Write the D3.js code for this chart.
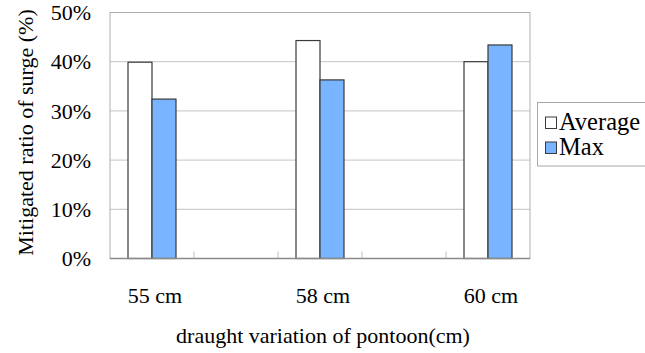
<!DOCTYPE html>
<html><head><meta charset="utf-8">
<script src="https://cdn.jsdelivr.net/npm/d3@7"></script>
</head><body style="margin:0">
<script>
const categories = ["55 cm", "", "58 cm", "", "60 cm"];
const seriesNames = ["Average", "Max"];
const averageValues = [39.9, null, 44.3, null, 40.0];
const maxValues = [32.4, null, 36.3, null, 43.4];
const yTicks = [0, 10, 20, 30, 40, 50];
const colors = ["#ffffff", "#78b4ff"];

const FONT = "Liberation Serif";
const W = 645, H = 353;
const m = {left: 110, right: 530, top: 12.5, bottom: 258.5};
const svg = d3.select("body").append("svg").attr("width", W).attr("height", H).style("display", "block");

const x = d3.scaleBand().domain(d3.range(categories.length)).range([m.left, m.right]).padding(0);
const y = d3.scaleLinear().domain([0, 50]).range([m.bottom, m.top]);
const inner = d3.scaleBand().domain([0, 1]).range([0, x.bandwidth()]).paddingOuter(0.75).paddingInner(0);

// gridlines
svg.append("g").selectAll("line").data(yTicks.filter(d => d > 0 && d < 50)).join("line")
  .attr("x1", m.left).attr("x2", m.right).attr("y1", d => y(d)).attr("y2", d => y(d))
  .attr("stroke", "#c4c4c4").attr("stroke-width", 1);

// plot frame
svg.append("rect").attr("x", m.left).attr("y", m.top).attr("width", m.right - m.left).attr("height", m.bottom - m.top)
  .attr("fill", "none").attr("stroke", "#b0b0b0").attr("stroke-width", 1);

// inner ticks at category boundaries
svg.append("g").selectAll("line").data(d3.range(1, categories.length)).join("line")
  .attr("x1", d => x(d)).attr("x2", d => x(d)).attr("y1", m.bottom).attr("y2", m.bottom - 7)
  .attr("stroke", "#c0c0c0").attr("stroke-width", 1);

// bars
const series = [averageValues, maxValues];
series.forEach((vals, s) => {
  svg.append("g").selectAll("rect").data(vals.map((v, i) => ({v, i})).filter(d => d.v != null)).join("rect")
    .attr("x", d => x(d.i) + inner(s))
    .attr("y", d => y(d.v))
    .attr("width", inner.bandwidth())
    .attr("height", d => y(0) - y(d.v))
    .attr("fill", colors[s]).attr("stroke", "#3a3a3a").attr("stroke-width", 1.2);
});

// bottom axis line
svg.append("line").attr("x1", m.left).attr("x2", m.right).attr("y1", m.bottom).attr("y2", m.bottom)
  .attr("stroke", "#8a8a8a").attr("stroke-width", 1.6);

// y tick labels
svg.append("g").selectAll("text").data(yTicks).join("text")
  .attr("x", 91).attr("y", d => y(d)).attr("dy", "0.35em").attr("text-anchor", "end")
  .attr("font-family", FONT).attr("font-size", 22).text(d => d + "%");

// x labels
svg.append("g").selectAll("text").data(categories.map((c, i) => ({c, i}))).join("text")
  .attr("x", d => x(d.i) + x.bandwidth() / 2 + 3).attr("y", 303).attr("text-anchor", "middle")
  .attr("font-family", FONT).attr("font-size", 22).text(d => d.c);

// axis titles
svg.append("text").attr("x", 323).attr("y", 343).attr("text-anchor", "middle")
  .attr("font-family", FONT).attr("font-size", 22)
  .text("draught variation of pontoon(cm)");
svg.append("text").attr("transform", "translate(33,132.5) rotate(-90)").attr("text-anchor", "middle")
  .attr("font-family", FONT).attr("font-size", 22).text("Mitigated ratio of surge (%)");

// legend
const lg = svg.append("g");
lg.append("rect").attr("x", 537.5).attr("y", 102.5).attr("width", 120).attr("height", 63.5)
  .attr("fill", "#fff").attr("stroke", "#a8a8a8");
seriesNames.forEach((n, i) => {
  const yy = 117 + i * 25;
  lg.append("rect").attr("x", 545.5).attr("y", yy).attr("width", 11).attr("height", 11.5)
    .attr("fill", colors[i]).attr("stroke", "#3a3a3a").attr("stroke-width", 1);
  lg.append("text").attr("x", 559).attr("y", yy + 13).attr("font-family", FONT).attr("font-size", 24.5).text(n);
});
</script>
</body></html>
